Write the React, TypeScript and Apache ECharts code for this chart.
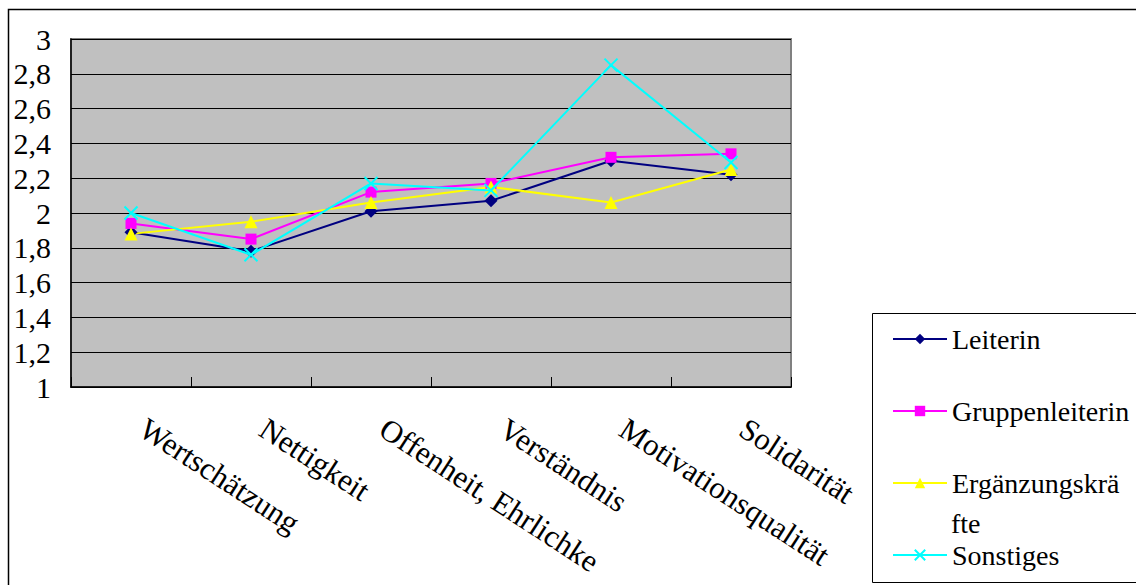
import React, { useEffect, useRef } from "react";
import * as echarts from "echarts";

const categories = [
  "Wertschätzung",
  "Nettigkeit",
  "Offenheit, Ehrlichkeit",
  "Verständnis",
  "Motivationsqualität",
  "Solidarität",
];
const seriesNames = ["Leiterin", "Gruppenleiterin", "Ergänzungskräfte", "Sonstiges"];
const legendLabels = ["Leiterin", "Gruppenleiterin", "Ergänzungskrä", "Sonstiges"];
const legendWrapRest = "fte";
const leiterin = [1.89, 1.78, 2.01, 2.07, 2.3, 2.22];
const gruppenleiterin = [1.94, 1.85, 2.12, 2.17, 2.32, 2.34];
const ergaenzung = [1.88, 1.95, 2.06, 2.15, 2.06, 2.25];
const sonstiges = [2.0, 1.76, 2.17, 2.13, 2.85, 2.29];
const yMin = 1;
const yMax = 3;
const yStep = 0.2;

const SERIF = "Liberation Serif, Times New Roman, serif";

export default function App() {
  const ref = useRef<HTMLDivElement>(null);
  useEffect(() => {
    document.body.style.margin = "0";
    const chart = echarts.init(ref.current!, null, { renderer: "svg" });
    const mk = (name: string, data: number[], color: string, symbol: string, size: number, extra: any = {}) => ({
      name,
      type: "line",
      data,
      symbol,
      symbolSize: size,
      lineStyle: { color, width: 2 },
      itemStyle: { color, borderColor: color, borderWidth: extra.bw ?? 0 },
      z: extra.z ?? 2,
    });
    chart.setOption({
      animation: false,
      graphic: [
        {
          type: "rect",
          shape: { x: 8.5, y: 9.5, width: 1200, height: 700 },
          style: { fill: "none", stroke: "#000", lineWidth: 1.5 },
          z: -10,
        },
        {
          type: "rect",
          shape: { x: 872.5, y: 313.5, width: 300, height: 269 },
          style: { fill: "#fff", stroke: "#000", lineWidth: 1 },
          z: -5,
        },
        {
          type: "text",
          x: 951,
          y: 523,
          style: {
            text: legendWrapRest,
            fill: "#000",
            fontSize: 28,
            fontFamily: SERIF,
            verticalAlign: "middle",
          },
          z: 10,
        },
      ],
      grid: {
        left: 71,
        top: 39,
        right: 1136 - 791,
        bottom: 585 - 387,
        show: true,
        backgroundColor: "#C0C0C0",
        borderColor: "#808080",
        borderWidth: 2,
      },
      legend: {
        data: seriesNames,
        orient: "vertical",
        left: 892,
        top: 319,
        padding: 0,
        itemGap: 32,
        itemWidth: 54,
        itemHeight: 13,
        selectedMode: false,
        formatter: (n: string) => legendLabels[seriesNames.indexOf(n)],
        textStyle: {
          color: "#000",
          fontFamily: SERIF,
          fontSize: 28,
          lineHeight: 40,
        },
      },
      xAxis: {
        type: "category",
        data: categories,
        boundaryGap: true,
        axisLine: { show: true, lineStyle: { color: "#000", width: 1.5 } },
        axisTick: { show: true, inside: true, length: 10, lineStyle: { color: "#000" } },
        axisLabel: {
          interval: 0,
          rotate: -33,
          margin: 31,
          padding: [0, 0, 0, 14],
          color: "#000",
          fontFamily: SERIF,
          fontSize: 31,
          width: 262,
          overflow: "truncate",
          ellipsis: "",
        },
        splitLine: { show: false },
      },
      yAxis: {
        type: "value",
        min: yMin,
        max: yMax,
        interval: yStep,
        axisLine: { show: true, lineStyle: { color: "#000", width: 1.5 } },
        axisTick: { show: true, inside: true, length: 10, lineStyle: { color: "#000" } },
        axisLabel: {
          margin: 20,
          color: "#000",
          fontFamily: SERIF,
          fontSize: 30,
          formatter: (v: number) => String(Math.round(v * 10) / 10).replace(".", ","),
        },
        splitLine: { show: true, lineStyle: { color: "#000", width: 1 } },
      },
      series: [
        mk(seriesNames[0], leiterin, "#000080", "diamond", 13),
        mk(seriesNames[1], gruppenleiterin, "#FF00FF", "rect", 11),
        mk(seriesNames[2], ergaenzung, "#FFFF00", "triangle", 13),
        mk(seriesNames[3], sonstiges, "#00FFFF", "path://M0,0L10,10M10,0L0,10", 13, { bw: 2, z: 3 }),
      ],
    });
    return () => chart.dispose();
  }, []);
  return <div ref={ref} style={{ width: 1136, height: 585 }} />;
}
